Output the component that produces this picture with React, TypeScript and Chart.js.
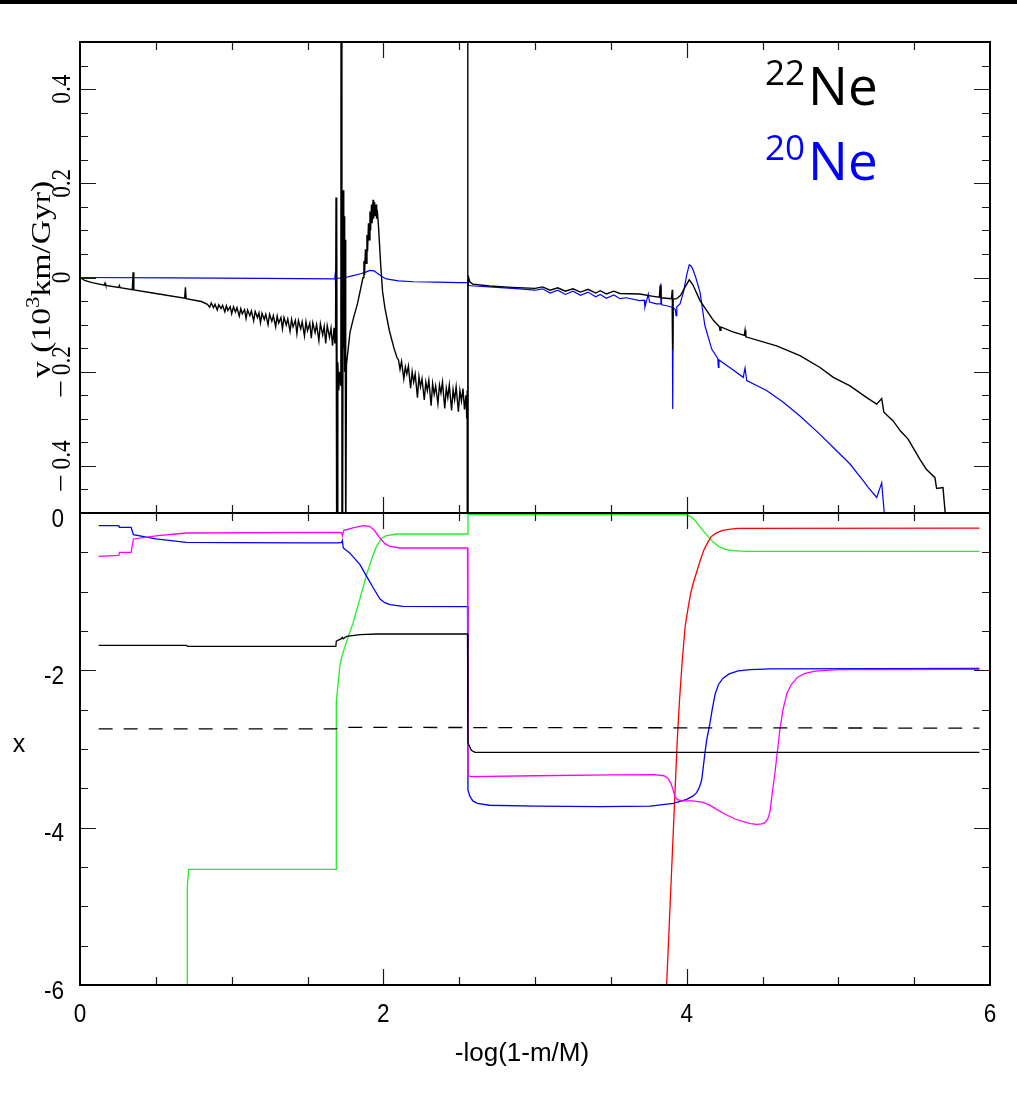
import { useEffect, useRef } from 'react';
import { Chart, registerables } from 'chart.js';

Chart.register(...registerables);

type Pt = [number, number];

// ---------- axis ranges & tick labels ----------
const xRange: Pt = [0, 6];
const vRange: Pt = [-0.5, 0.5];
const abundRange: Pt = [-6, 0];
const xTickValues = [0, 2, 4, 6];
const xTickLabels = ['0', '2', '4', '6'];
const vTickValues = [0.4, 0.2, 0, -0.2, -0.4];
const vTickLabels = ['0.4', '0.2', '0', '−0.2', '−0.4'];
const abundTickValues = [0, -2, -4, -6];
const abundTickLabels = ['0', '-2', '-4', '-6'];

// ---------- top panel: velocities ----------
const ne22Velocity: Pt[] = [
  [0, 0], [0.03, -0.006], [0.08, -0.011], [0.16, -0.0165], [0.165, -0.012], [0.17, -0.017],
  [0.255, -0.021], [0.26, -0.017], [0.265, -0.0215],
  [0.345, -0.026], [0.35, 0.011], [0.355, -0.0265],
  [0.5, -0.034], [0.69, -0.044], [0.695, -0.021], [0.7, -0.045], [0.8, -0.051],
  [0.84, -0.057], [0.855, -0.063], [0.865, -0.054], [0.88, -0.064], [0.89, -0.057], [0.905, -0.069],
  [0.915, -0.058], [0.93, -0.066], [0.94, -0.059], [0.955, -0.073], [0.965, -0.06], [0.975, -0.07],
  [0.99, -0.062], [1.0, -0.077], [1.012, -0.062], [1.025, -0.073], [1.035, -0.064], [1.05, -0.082],
  [1.06, -0.066], [1.07, -0.077], [1.085, -0.068], [1.095, -0.087], [1.105, -0.069], [1.12, -0.081],
  [1.13, -0.071], [1.145, -0.092], [1.155, -0.072], [1.17, -0.085], [1.18, -0.075], [1.19, -0.096],
  [1.2, -0.076], [1.215, -0.089], [1.225, -0.078], [1.24, -0.1], [1.25, -0.078], [1.265, -0.093],
  [1.275, -0.081], [1.29, -0.105], [1.3, -0.082], [1.31, -0.097], [1.325, -0.085], [1.335, -0.109],
  [1.345, -0.085], [1.36, -0.101], [1.37, -0.088], [1.385, -0.114], [1.395, -0.089], [1.405, -0.105],
  [1.42, -0.091], [1.43, -0.119], [1.44, -0.091], [1.455, -0.109], [1.465, -0.094], [1.48, -0.124],
  [1.49, -0.094], [1.5, -0.113], [1.515, -0.097], [1.525, -0.129], [1.535, -0.096], [1.55, -0.117],
  [1.56, -0.1], [1.575, -0.134], [1.585, -0.098], [1.6, -0.122], [1.61, -0.104], [1.62, -0.14],
  [1.63, -0.102], [1.645, -0.127], [1.655, -0.108], [1.665, -0.145], [1.675, -0.107], [1.68, -0.14],
  [1.685, -0.12], [1.688, 0.17], [1.691, -0.6], [1.694, 0.16], [1.697, -0.6], [1.7, -0.18],
  [1.706, -0.24], [1.712, -0.2], [1.72, -0.23], [1.727, 5], [1.727, -5], [1.732, -0.47],
  [1.736, 0.185], [1.739, -0.15], [1.742, 0.13], [1.745, -0.2], [1.748, 0.08], [1.752, -0.6],
  [1.757, -0.185], [1.78, -0.117], [1.8, -0.09], [1.83, -0.055], [1.866, 0.0], [1.872, 0.035],
  [1.876, 0.005], [1.882, 0.06], [1.886, 0.03], [1.892, 0.09], [1.896, 0.055], [1.902, 0.115],
  [1.906, 0.08], [1.912, 0.14], [1.916, 0.1], [1.922, 0.155], [1.926, 0.115], [1.932, 0.165],
  [1.936, 0.125], [1.942, 0.16], [1.946, 0.13], [1.952, 0.155], [1.956, 0.125], [1.962, 0.135],
  [1.968, 0.11], [1.975, 0.07], [1.983, 0.025], [1.995, -0.03], [2.01, -0.064], [2.04, -0.113],
  [2.07, -0.15], [2.09, -0.17],
  [2.1, -0.175], [2.11, -0.195], [2.12, -0.178], [2.135, -0.215], [2.145, -0.19], [2.155, -0.205],
  [2.165, -0.188], [2.18, -0.235], [2.19, -0.2], [2.2, -0.222], [2.21, -0.205], [2.225, -0.255],
  [2.235, -0.21], [2.245, -0.232], [2.255, -0.215], [2.27, -0.26], [2.28, -0.222], [2.29, -0.24],
  [2.3, -0.218], [2.315, -0.272], [2.325, -0.225], [2.335, -0.248], [2.345, -0.23], [2.36, -0.268],
  [2.37, -0.228], [2.38, -0.245], [2.39, -0.222], [2.405, -0.278], [2.415, -0.235], [2.425, -0.255],
  [2.435, -0.228], [2.45, -0.282], [2.46, -0.238], [2.47, -0.26], [2.48, -0.232], [2.495, -0.285],
  [2.505, -0.24], [2.515, -0.262], [2.525, -0.236], [2.535, -0.28], [2.545, -0.25], [2.55, -0.3],
  [2.553, -0.24], [2.556, 5], [2.558, -5],
  [2.559, 0.004], [2.57, -0.009], [2.59, -0.014], [2.7, -0.018], [2.85, -0.021], [3.0, -0.023],
  [3.05, -0.02], [3.1, -0.027], [3.15, -0.022], [3.2, -0.029], [3.25, -0.024], [3.3, -0.031],
  [3.35, -0.025], [3.4, -0.033], [3.43, -0.028], [3.47, -0.035], [3.52, -0.029], [3.56, -0.034],
  [3.69, -0.035], [3.78, -0.04], [3.82, -0.042], [3.825, -0.017], [3.83, -0.043], [3.9, -0.045],
  [3.905, -0.026], [3.908, -0.153], [3.911, -0.046], [3.934, -0.045], [3.96, -0.038], [3.99, -0.02],
  [4.017, -0.005], [4.04, -0.015], [4.088, -0.049], [4.176, -0.091], [4.215, -0.104], [4.22, -0.112],
  [4.226, -0.105], [4.3, -0.115], [4.38, -0.123], [4.385, -0.112], [4.39, -0.126], [4.593, -0.145],
  [4.747, -0.166], [4.879, -0.191], [4.967, -0.212], [5.077, -0.23], [5.187, -0.255], [5.253, -0.269],
  [5.286, -0.257], [5.3, -0.286], [5.36, -0.304], [5.41, -0.326], [5.46, -0.343], [5.538, -0.386],
  [5.58, -0.407], [5.637, -0.425], [5.648, -0.448], [5.69, -0.446], [5.71, -0.52],
];

const ne20Velocity: Pt[] = [
  [0, 0], [0.6, -0.001], [1.2, -0.002], [1.68, -0.003], [1.684, 0.012], [1.686, -0.05],
  [1.69, -0.002], [1.75, 0.0], [1.8, 0.004], [1.85, 0.008], [1.88, 0.011], [1.91, 0.015],
  [1.94, 0.014], [1.96, 0.009], [1.99, 0.002], [2.02, -0.003], [2.1, -0.007], [2.2, -0.009],
  [2.35, -0.01], [2.5, -0.011], [2.555, -0.011], [2.558, -0.005], [2.562, -0.017], [2.6, -0.018],
  [2.75, -0.021], [2.9, -0.024], [3.0, -0.027], [3.05, -0.024], [3.1, -0.033], [3.15, -0.027],
  [3.2, -0.036], [3.25, -0.029], [3.3, -0.038], [3.35, -0.031], [3.4, -0.041], [3.43, -0.036],
  [3.47, -0.044], [3.52, -0.037], [3.56, -0.045], [3.6, -0.043], [3.69, -0.049], [3.72, -0.048],
  [3.725, -0.063], [3.735, -0.05], [3.747, -0.035], [3.755, -0.052], [3.8, -0.056], [3.825, -0.056],
  [3.83, -0.013], [3.835, -0.058], [3.868, -0.06], [3.905, -0.063], [3.908, -0.279], [3.911, -0.064],
  [3.925, -0.068], [3.93, -0.081], [3.935, -0.062], [3.956, -0.056], [3.98, -0.03], [4.0, 0.005],
  [4.017, 0.027], [4.03, 0.024], [4.04, 0.018], [4.06, 0.0], [4.088, -0.031], [4.12, -0.102],
  [4.165, -0.152], [4.205, -0.172], [4.209, -0.191], [4.213, -0.175], [4.3, -0.195], [4.373, -0.212],
  [4.385, -0.192], [4.396, -0.219], [4.527, -0.24], [4.637, -0.265], [4.747, -0.294], [4.879, -0.333],
  [4.967, -0.361], [5.077, -0.396], [5.165, -0.432], [5.198, -0.446], [5.253, -0.467], [5.286, -0.436],
  [5.308, -0.52],
];

// ---------- bottom panel: abundances ----------
const abundBlue: Pt[] = [
  [0.123, -0.161], [0.256, -0.161], [0.26, -0.182], [0.337, -0.182], [0.352, -0.275], [0.5, -0.33],
  [0.7, -0.373], [1.0, -0.376], [1.5, -0.379], [1.7, -0.381], [1.725, -0.375], [1.73, -0.35],
  [1.736, -0.445], [1.78, -0.51], [1.846, -0.657], [1.89, -0.805], [1.934, -0.953], [1.978, -1.093],
  [2.01, -1.14], [2.044, -1.165], [2.13, -1.186], [2.555, -1.19], [2.558, -3.52], [2.57, -3.6],
  [2.59, -3.66], [2.62, -3.69], [2.7, -3.715], [3.0, -3.725], [3.43, -3.733], [3.76, -3.725],
  [3.912, -3.69], [4.0, -3.64], [4.04, -3.6], [4.066, -3.555], [4.085, -3.48], [4.099, -3.394],
  [4.11, -3.22], [4.12, -3.06], [4.132, -2.885], [4.151, -2.7], [4.17, -2.48], [4.188, -2.3],
  [4.21, -2.18], [4.24, -2.1], [4.28, -2.045], [4.34, -2.008], [4.42, -1.99], [4.55, -1.982],
  [5.93, -1.975],
];

const abundMagenta: Pt[] = [
  [0.123, -0.551], [0.256, -0.54], [0.26, -0.5], [0.337, -0.5], [0.352, -0.33], [0.5, -0.29],
  [0.7, -0.254], [1.7, -0.246], [1.725, -0.25], [1.73, -0.29], [1.74, -0.22], [1.8, -0.19],
  [1.868, -0.161], [1.91, -0.17], [1.94, -0.22], [1.978, -0.318], [2.01, -0.39], [2.044, -0.424],
  [2.11, -0.445], [2.555, -0.445], [2.558, -3.34], [2.58, -3.35], [3.0, -3.34], [3.5, -3.33],
  [3.79, -3.326], [3.85, -3.34], [3.875, -3.37], [3.895, -3.43], [3.91, -3.52], [3.923, -3.606],
  [3.94, -3.645], [3.97, -3.66], [4.04, -3.66], [4.1, -3.675], [4.15, -3.71], [4.2, -3.77],
  [4.264, -3.839], [4.32, -3.89], [4.373, -3.924], [4.42, -3.95], [4.462, -3.958], [4.495, -3.952],
  [4.516, -3.936], [4.535, -3.89], [4.549, -3.8], [4.565, -3.55], [4.582, -3.305], [4.6, -3.0],
  [4.615, -2.75], [4.635, -2.5], [4.66, -2.3], [4.69, -2.18], [4.73, -2.09], [4.78, -2.04],
  [4.85, -2.01], [5.0, -1.99], [5.93, -1.987],
];

const abundBlack: Pt[] = [
  [0.123, -1.682], [0.7, -1.682], [0.71, -1.695], [1.687, -1.695], [1.69, -1.63], [1.7, -1.62],
  [1.72, -1.6], [1.73, -1.58], [1.735, -1.6], [1.758, -1.568], [1.846, -1.547], [1.956, -1.538],
  [2.555, -1.538], [2.558, -2.92], [2.58, -3.017], [2.604, -3.042], [5.93, -3.042],
];

const abundDashed: Pt[] = [
  [0.123, -2.745], [1.69, -2.745], [1.71, -2.725], [5.93, -2.735],
];

const abundGreen: Pt[] = [
  [0.708, -6.3], [0.706, -5.2], [0.709, -4.75], [0.716, -4.53], [1.688, -4.53], [1.69, -2.4],
  [1.7, -2.2], [1.715, -1.92], [1.73, -1.8], [1.76, -1.62], [1.8, -1.4], [1.85, -1.06],
  [1.89, -0.78], [1.93, -0.55], [1.956, -0.42], [1.99, -0.32], [2.02, -0.288], [2.088, -0.267],
  [2.555, -0.267], [2.558, -0.02], [3.98, -0.02], [4.0, -0.025], [4.02, -0.04], [4.04, -0.064],
  [4.065, -0.12], [4.09, -0.18], [4.115, -0.24], [4.14, -0.297], [4.175, -0.37], [4.21, -0.424],
  [4.25, -0.46], [4.287, -0.475], [4.386, -0.487], [5.93, -0.487],
];

const abundRed: Pt[] = [
  [3.862, -6.3], [3.868, -6.0], [3.938, -2.885], [3.953, -2.373], [3.97, -1.9], [3.99, -1.44],
  [4.01, -1.2], [4.027, -1.017], [4.045, -0.88], [4.064, -0.763], [4.09, -0.6], [4.114, -0.466],
  [4.14, -0.37], [4.163, -0.297], [4.2, -0.25], [4.238, -0.22], [4.29, -0.205], [4.337, -0.195],
  [5.93, -0.193],
];

// ---------- layout ----------
const W = 1017;
const H = 1098;
const LEFT = 80;
const RIGHT = 990;
const TOP = 42;
const MID = 513;
const BOTTOM = 985;

const toXY = (pts: Pt[]) => pts.map(([x, y]) => ({ x, y }));

function drawText(
  ctx: CanvasRenderingContext2D,
  s: string,
  x: number,
  y: number,
  font: string,
  color: string,
  opt: { align?: CanvasTextAlign; rot?: number; sx?: number; sy?: number } = {}
) {
  const { align = 'center', rot = 0, sx = 1, sy = 1 } = opt;
  ctx.save();
  ctx.translate(x, y);
  if (rot) ctx.rotate(rot);
  ctx.scale(sx, sy);
  ctx.font = font;
  ctx.fillStyle = color;
  ctx.textAlign = align;
  ctx.textBaseline = 'alphabetic';
  ctx.fillText(s, 0, 0);
  ctx.restore();
}

function drawFrame(chart: any, yStep: number, yMajorEvery: number) {
  const ctx: CanvasRenderingContext2D = chart.ctx;
  const { left, right, top, bottom } = chart.chartArea;
  const xs = chart.scales.x;
  const ys = chart.scales.y;
  ctx.save();
  ctx.strokeStyle = '#1a1a1a';
  ctx.lineWidth = 1.2;
  ctx.beginPath();
  for (let k = 1; k < 12; k++) {
    const v = k * 0.5;
    const px = Math.round(xs.getPixelForValue(v)) + 0.5;
    const len = k % 4 === 0 ? 16 : 8;
    ctx.moveTo(px, top); ctx.lineTo(px, top + len);
    ctx.moveTo(px, bottom); ctx.lineTo(px, bottom - len);
  }
  const yMin = ys.min;
  const yMax = ys.max;
  const n = Math.round((yMax - yMin) / yStep);
  for (let k = 1; k < n; k++) {
    const v = yMin + k * yStep;
    const idx = Math.round(v / yStep);
    const py = Math.round(ys.getPixelForValue(v)) + 0.5;
    const len = idx % yMajorEvery === 0 ? 16 : 8;
    ctx.moveTo(left, py); ctx.lineTo(left + len, py);
    ctx.moveTo(right, py); ctx.lineTo(right - len, py);
  }
  ctx.stroke();
  ctx.strokeStyle = '#000';
  ctx.lineWidth = 2;
  ctx.strokeRect(left, top, right - left, bottom - top);
  ctx.restore();
}

const topPlugin = {
  id: 'topDecor',
  afterDraw(chart: any) {
    const ctx: CanvasRenderingContext2D = chart.ctx;
    drawFrame(chart, 0.05, 4);
    ctx.save();
    ctx.fillStyle = '#000';
    ctx.fillRect(0, 0, W, 4);
    ctx.restore();
    const ys = chart.scales.y;
    const serif = '28px "Liberation Serif"';
    vTickValues.forEach((v, i) => {
      const py = ys.getPixelForValue(v);
      const lab = vTickLabels[i];
      if (lab.startsWith('−')) {
        drawText(ctx, lab.slice(1), 70, py - 11, serif, '#000', { rot: -Math.PI / 2, sx: 0.83 });
        drawText(ctx, '−', 70, py + 17, serif, '#000', { rot: -Math.PI / 2, sx: 1.15 });
      } else {
        drawText(ctx, lab, 70, py, serif, '#000', { rot: -Math.PI / 2, sx: 0.83 });
      }
    });
    // axis title
    ctx.save();
    ctx.translate(50, 378);
    ctx.rotate(-Math.PI / 2);
    ctx.scale(1.2, 1);
    ctx.fillStyle = '#000';
    ctx.textAlign = 'left';
    ctx.textBaseline = 'alphabetic';
    ctx.font = serif;
    const p1 = 'v (10';
    ctx.fillText(p1, 0, 0);
    const w1 = ctx.measureText(p1).width;
    ctx.font = '19px "Liberation Serif"';
    ctx.fillText('3', w1, -11);
    const w2 = ctx.measureText('3').width;
    ctx.font = serif;
    ctx.fillText('km/Gyr)', w1 + w2, 0);
    ctx.restore();
    // legend
    drawText(ctx, '22', 765, 85, '35px "Open Sans"', '#000', { align: 'left' });
    drawText(ctx, 'Ne', 808, 105, '53px "Open Sans"', '#000', { align: 'left' });
    drawText(ctx, '20', 765, 160, '35px "Open Sans"', '#0000ff', { align: 'left' });
    drawText(ctx, 'Ne', 808, 180, '53px "Open Sans"', '#0000ff', { align: 'left' });
  },
};

const bottomPlugin = {
  id: 'bottomDecor',
  afterDraw(chart: any) {
    const ctx: CanvasRenderingContext2D = chart.ctx;
    drawFrame(chart, 0.5, 4);
    const xs = chart.scales.x;
    const ys = chart.scales.y;
    const sans = '25px "Liberation Sans"';
    xTickValues.forEach((v, i) => {
      drawText(ctx, xTickLabels[i], xs.getPixelForValue(v), 1022, sans, '#000', { sx: 0.9 });
    });
    abundTickValues.forEach((v, i) => {
      drawText(ctx, abundTickLabels[i], 64, ys.getPixelForValue(v) + 13.5, sans, '#000', { align: 'right', sx: 0.9 });
    });
    drawText(ctx, 'x', 19, 752, sans, '#000');
    drawText(ctx, '-log(1-m/M)', 522, 1061, '26px "Liberation Sans"', '#000');
  },
};

function lineDs(pts: Pt[], color: string, width = 1.3, dash: number[] = []) {
  return {
    data: toXY(pts),
    borderColor: color,
    backgroundColor: color,
    borderWidth: width,
    borderDash: dash,
    pointRadius: 0,
    tension: 0,
    fill: false,
    clip: 0,
  };
}

function baseOptions(padding: any, yR: Pt) {
  return {
    responsive: false,
    animation: false as const,
    devicePixelRatio: 1,
    layout: { padding },
    plugins: { legend: { display: false }, tooltip: { enabled: false } },
    events: [] as any[],
    scales: {
      x: { type: 'linear' as const, min: xRange[0], max: xRange[1], display: false },
      y: { type: 'linear' as const, min: yR[0], max: yR[1], display: false },
    },
  };
}

export default function App() {
  const topRef = useRef<HTMLCanvasElement>(null);
  const botRef = useRef<HTMLCanvasElement>(null);

  useEffect(() => {
    const top = new Chart(topRef.current as HTMLCanvasElement, {
      type: 'line',
      data: {
        datasets: [
          lineDs(ne22Velocity, '#000000', 1.4) as any,
          lineDs(ne20Velocity, '#0000ff', 1.2) as any,
        ],
      },
      options: baseOptions({ left: LEFT, right: W - RIGHT, top: TOP, bottom: H - MID }, vRange) as any,
      plugins: [topPlugin],
    });
    const bot = new Chart(botRef.current as HTMLCanvasElement, {
      type: 'line',
      data: {
        datasets: [
          lineDs(abundBlack, '#000000') as any,
          lineDs(abundDashed, '#000000', 1.3, [14, 11]) as any,
          lineDs(abundMagenta, '#ff00ff') as any,
          lineDs(abundBlue, '#0000ff') as any,
          lineDs(abundRed, '#ff0000') as any,
          lineDs(abundGreen, '#22f022') as any,
        ],
      },
      options: baseOptions({ left: LEFT, right: W - RIGHT, top: MID, bottom: H - BOTTOM }, abundRange) as any,
      plugins: [bottomPlugin],
    });
    return () => {
      top.destroy();
      bot.destroy();
    };
  }, []);

  const cs: React.CSSProperties = { position: 'absolute', left: 0, top: 0, width: W, height: H, display: 'block' };
  return (
    <div style={{ position: 'absolute', left: 0, top: 0, width: W, height: H, background: '#fff' }}>
      <canvas ref={topRef} width={W} height={H} style={cs} />
      <canvas ref={botRef} width={W} height={H} style={cs} />
    </div>
  );
}
